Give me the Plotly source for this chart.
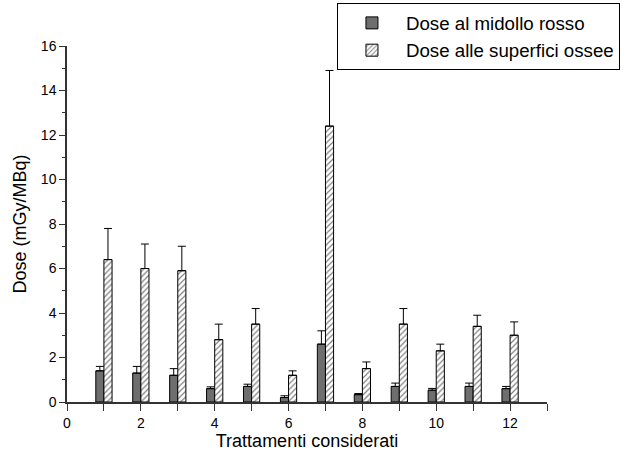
import plotly.graph_objects as go

treatments = [1, 2, 3, 4, 5, 6, 7, 8, 9, 10, 11, 12]
marrow_dose = [1.4, 1.3, 1.2, 0.6, 0.7, 0.2, 2.6, 0.33, 0.7, 0.53, 0.7, 0.6]
marrow_err = [0.2, 0.3, 0.3, 0.08, 0.1, 0.08, 0.6, 0.05, 0.15, 0.08, 0.15, 0.1]
bone_dose = [6.4, 6.0, 5.9, 2.8, 3.5, 1.2, 12.4, 1.5, 3.5, 2.3, 3.4, 3.0]
bone_err = [1.4, 1.1, 1.1, 0.7, 0.7, 0.2, 2.5, 0.3, 0.7, 0.3, 0.5, 0.6]

font_family = "Liberation Sans, Arial, sans-serif"

fig = go.Figure()
fig.add_trace(go.Bar(
    x=treatments, y=marrow_dose, name="Dose al midollo rosso",
    marker=dict(color="#6e6e6e", line=dict(color="black", width=1)),
    error_y=dict(type="data", array=marrow_err, symmetric=False,
                 arrayminus=[0] * len(marrow_err),
                 color="black", thickness=1, width=4),
))
fig.add_trace(go.Bar(
    x=treatments, y=bone_dose, name="Dose alle superfici ossee",
    marker=dict(color="white", line=dict(color="black", width=1),
                pattern=dict(shape="/", fgcolor="black", bgcolor="white",
                             size=4, solidity=0.3)),
    error_y=dict(type="data", array=bone_err, symmetric=False,
                 arrayminus=[0] * len(bone_err),
                 color="black", thickness=1, width=4),
))

fig.update_layout(
    width=631, height=460,
    margin=dict(l=67, r=84, t=46, b=58, autoexpand=False),
    barmode="group", bargap=0.56, bargroupgap=0,
    plot_bgcolor="white", paper_bgcolor="white",
    font=dict(family=font_family, color="black", size=14),
    showlegend=True,
    legend=dict(xref="container", yref="container",
                x=0.534, y=0.993, xanchor="left", yanchor="top",
                bordercolor="black", borderwidth=1, bgcolor="white",
                font=dict(size=18.7), itemwidth=58, tracegroupgap=0),
)
fig.update_xaxes(
    range=[0, 13], dtick=2, tick0=0, showgrid=False, zeroline=False,
    showline=True, linecolor="#333", linewidth=1.5,
    ticks="outside", ticklen=7, tickcolor="#333", tickwidth=1,
    minor=dict(dtick=1, ticks="outside", ticklen=7, tickcolor="#333"),
    tickfont=dict(size=14),
    title=dict(text="Trattamenti considerati", font=dict(size=18), standoff=0),
)
fig.update_yaxes(
    range=[0, 16], dtick=2, tick0=0, showgrid=False, zeroline=False,
    showline=True, linecolor="#333", linewidth=1.5,
    ticks="outside", ticklen=6, tickcolor="#333", tickwidth=1,
    minor=dict(dtick=1, ticks="outside", ticklen=3, tickcolor="#333"),
    tickfont=dict(size=14),
    title=dict(text="Dose (mGy/MBq)", font=dict(size=18), standoff=10),
)

fig.write_html(
    "out.html",
    config={"displayModeBar": False},
    post_script="document.body.style.margin='0';document.body.style.padding='0';",
)
